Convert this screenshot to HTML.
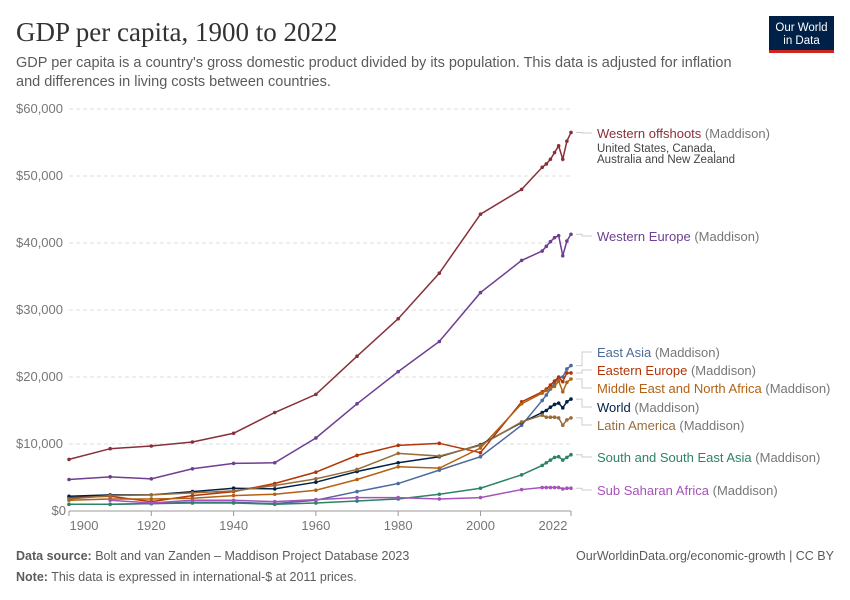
<!DOCTYPE html>
<html><head><meta charset="utf-8">
<style>
body{margin:0;background:#fff;font-family:"Liberation Sans",sans-serif;}
#wrap{position:relative;width:850px;height:600px;overflow:hidden;}
</style></head>
<body>
<div id="wrap">
<svg id="svg" width="850" height="600" xmlns="http://www.w3.org/2000/svg">
<text x="16" y="41" font-family="Liberation Serif,serif" font-size="27" fill="#333">GDP per capita, 1900 to 2022</text>
<text x="16" y="67" font-size="14.5" fill="#5b5b5b">GDP per capita is a country's gross domestic product divided by its population. This data is adjusted for inflation</text>
<text x="16" y="86" font-size="14.5" fill="#5b5b5b">and differences in living costs between countries.</text>
<g>
<rect x="769" y="16" width="65" height="34" fill="#002147"/>
<rect x="769" y="50" width="65" height="3" fill="#ce261e"/>
<text x="801.5" y="31" font-size="11.5" fill="#fff" text-anchor="middle">Our World</text>
<text x="801.5" y="44" font-size="11.5" fill="#fff" text-anchor="middle">in Data</text>
</g>
<g id="grid"></g>
<g id="series"></g>
<g id="labels"></g>
<text x="16" y="560" font-size="12.5" fill="#5b5b5b"><tspan font-weight="bold">Data source:</tspan> Bolt and van Zanden – Maddison Project Database 2023</text>
<text x="834" y="560" font-size="12.5" fill="#5b5b5b" text-anchor="end">OurWorldinData.org/economic-growth | CC BY</text>
<text x="16" y="581" font-size="12.5" fill="#5b5b5b"><tspan font-weight="bold">Note:</tspan> This data is expressed in international-$ at 2011 prices.</text>
</svg>
</div>
<script>
const years = [1900,1910,1920,1930,1940,1950,1960,1970,1980,1990,2000,2010,2015,2016,2017,2018,2019,2020,2021,2022];
const westernOffshoots = [7.7,9.3,9.7,10.3,11.6,14.7,17.4,23.1,28.7,35.5,44.3,48.0,51.3,51.8,52.5,53.5,54.5,52.5,55.2,56.5];
const westernEurope = [4.7,5.1,4.8,6.3,7.1,7.2,10.9,16.0,20.8,25.3,32.6,37.4,38.8,39.5,40.2,40.8,41.1,38.1,40.3,41.3];
const eastAsia = [1.0,1.0,1.1,1.3,1.3,1.1,1.6,2.9,4.1,6.1,8.1,12.8,16.5,17.3,18.2,19.1,19.9,20.0,21.2,21.7];
const easternEurope = [2.0,2.2,1.4,2.3,2.9,4.1,5.8,8.3,9.8,10.1,8.7,16.3,17.8,18.2,18.8,19.4,20.0,19.3,20.6,20.6];
const mena = [1.6,1.8,1.8,1.9,2.3,2.5,3.1,4.7,6.6,6.4,9.4,16.0,17.6,18.0,18.3,18.6,19.4,17.8,19.2,19.7];
const world = [2.2,2.4,2.4,2.9,3.4,3.3,4.3,5.9,7.2,8.1,9.9,13.2,14.7,15.0,15.5,15.9,16.1,15.4,16.3,16.7];
const latinAmerica = [1.8,2.3,2.4,2.7,3.0,3.8,4.8,6.2,8.6,8.2,9.8,13.3,14.3,14.0,14.0,14.0,13.9,12.8,13.6,13.9];
const southAsia = [1.0,1.0,1.1,1.2,1.2,1.0,1.2,1.5,1.8,2.5,3.4,5.4,6.8,7.2,7.6,8.0,8.1,7.6,8.0,8.4];
const ssa = [null,1.6,1.2,1.6,1.6,1.4,1.7,2.0,2.0,1.8,2.0,3.2,3.5,3.5,3.5,3.5,3.5,3.3,3.4,3.4];
const yTicks = [0,10000,20000,30000,40000,50000,60000];
const yTickLabels = ["$0","$10,000","$20,000","$30,000","$40,000","$50,000","$60,000"];
const xTicks = [1900,1920,1940,1960,1980,2000,2022];

const X0=69, X1=571, Y0=511, Y1=109;
function xs(y){return X0+(y-1900)/(2022-1900)*(X1-X0);}
function ys(v){return Y0-v/60000*(Y0-Y1);}
const NS="http://www.w3.org/2000/svg";
function mk(tag,attrs,parent){const e=document.createElementNS(NS,tag);for(const k in attrs)e.setAttribute(k,attrs[k]);parent.appendChild(e);return e;}
const grid=document.getElementById('grid');
yTicks.forEach((t,i)=>{
  if(t>0){const l=mk('line',{x1:X0,x2:X1,y1:ys(t),y2:ys(t),stroke:'#ddd','stroke-dasharray':'4,3'},grid);
  
  }
  const tx=mk('text',{x:t===0?66:16,y:ys(t)+4,'font-size':13,fill:'#777','text-anchor':t===0?'end':'start'},grid);
  tx.textContent=yTickLabels[i];
  
  
});
const ax=mk('line',{x1:X0,x2:X1,y1:Y0,y2:Y0,stroke:'#999'},grid);


xTicks.forEach(t=>{
  const tk=mk('line',{x1:xs(t),x2:xs(t),y1:Y0,y2:Y0+5,stroke:'#999'},grid);
  
  
  const cx = t===1900?84:(t===2022?553:xs(t));
  const tx=mk('text',{x:cx,y:530,'font-size':13,fill:'#777','text-anchor':'middle'},grid);
  tx.textContent=t;
  
  
});
const series=[
 {n:'Western offshoots',d:westernOffshoots,c:'#883039',ly:133,sub:true},
 {n:'Western Europe',d:westernEurope,c:'#6d3e91',ly:236},
 {n:'East Asia',d:eastAsia,c:'#4c6a9c',ly:352},
 {n:'Eastern Europe',d:easternEurope,c:'#b13507',ly:370},
 {n:'Middle East and North Africa',d:mena,c:'#b16214',ly:388},
 {n:'World',d:world,c:'#002147',ly:407},
 {n:'Latin America',d:latinAmerica,c:'#996d39',ly:425},
 {n:'South and South East Asia',d:southAsia,c:'#2c8465',ly:457},
 {n:'Sub Saharan Africa',d:ssa,c:'#a652ba',ly:490},
];
const sg=document.getElementById('series'), lg=document.getElementById('labels');
series.forEach(s=>{
  const col=s.c;
  const g=mk('g',{},sg);
  
  
  let pts=[];
  years.forEach((y,i)=>{if(s.d[i]!=null)pts.push([xs(y),ys(s.d[i]*1000)]);});
  mk('polyline',{points:pts.map(p=>p.join(',')).join(' '),fill:'none',stroke:col,'stroke-width':1.5},g);
  pts.forEach(p=>{const c=mk('circle',{cx:p[0],cy:p[1],r:1.8,fill:col},g);
    
    });
  const last=pts[pts.length-1];
  const conn=mk('polyline',{points:`${last[0]+5},${last[1]} ${582},${last[1]} ${582},${s.ly} ${592},${s.ly}`,fill:'none',stroke:'#ccc','stroke-width':1},lg);
  
  
  const t=mk('text',{x:597,y:s.ly+5,'font-size':13},lg);
  
  
  const a=mk('tspan',{fill:col},t);a.textContent=s.n;
  const b=mk('tspan',{fill:'#777'},t);b.textContent=' (Maddison)';
  if(s.sub){
    const t1=mk('text',{x:597,y:s.ly+19,'font-size':11.5,fill:'#444'},lg);t1.textContent='United States, Canada,';
    
    
    const t2=mk('text',{x:597,y:s.ly+30,'font-size':11.5,fill:'#444'},lg);t2.textContent='Australia and New Zealand';
    
    
  }
});
</script>
</body></html>
